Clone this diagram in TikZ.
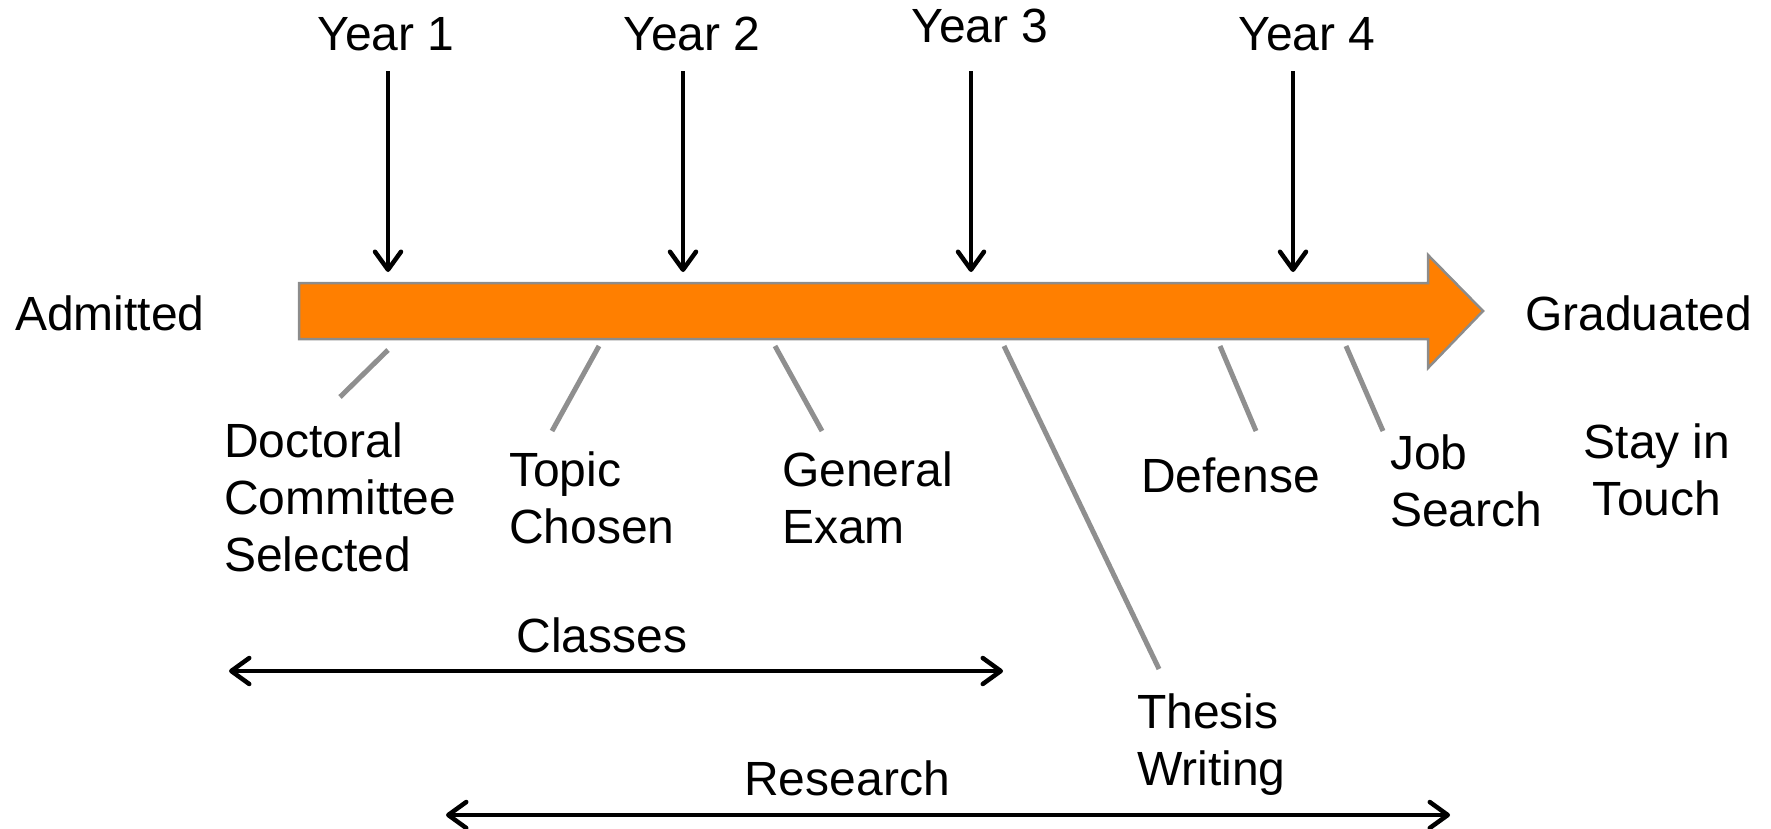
\documentclass[tikz,border=0pt]{standalone}
\usepackage{fontspec}
\setmainfont{Liberation Sans}
\usetikzlibrary{arrows.meta}
\definecolor{barorange}{HTML}{FF7F00}
\definecolor{bargray}{HTML}{8C8C8C}
\definecolor{leadgray}{HTML}{8F8F8F}
\tikzset{
  lbl/.style={font=\fontsize{48}{57}\selectfont, inner sep=0pt, align=left},
  tipbarb/.tip={Straight Barb[length=18pt,width=26pt,round]},
  yeararrow/.style={line width=4.5pt, -tipbarb},
  spanarrow/.style={line width=4.5pt, tipbarb-tipbarb},
  leader/.style={leadgray, line width=5pt},
  bar/.style={fill=barorange, draw=bargray, line width=2.5pt, line join=miter}
}
\begin{document}
\begin{tikzpicture}[x=1pt,y=-1pt]
\useasboundingbox (0,0) rectangle (1771,828);
% main orange arrow
\draw[bar] (299,283) -- (1428,283) -- (1428,255) -- (1483,311) -- (1428,368) -- (1428,339) -- (299,339) -- cycle;
% year labels
\node[lbl, anchor=base] (y1) at (386,50) {Year 1};
\node[lbl, anchor=base] (y2) at (692,50) {Year 2};
\node[lbl, anchor=base] (y3) at (980,42) {Year 3};
\node[lbl, anchor=base] (y4) at (1307,50) {Year 4};
% year arrow ends
\coordinate (a1s) at (388,71); \coordinate (a1e) at (388,272);
\coordinate (a2s) at (683,71); \coordinate (a2e) at (683,272);
\coordinate (a3s) at (971,71); \coordinate (a3e) at (971,272);
\coordinate (a4s) at (1293,71); \coordinate (a4e) at (1293,272);
\draw[yeararrow] (a1s) -- (a1e);
\draw[yeararrow] (a2s) -- (a2e);
\draw[yeararrow] (a3s) -- (a3e);
\draw[yeararrow] (a4s) -- (a4e);
% end labels
\node[lbl, anchor=base west] (adm) at (15,330) {Admitted};
\node[lbl, anchor=base west] (grad) at (1525,330) {Graduated};
% milestone labels (base anchor = last line baseline)
\node[lbl, anchor=base west] (doc) at (224,571) {Doctoral\\Committee\\Selected};
\node[lbl, anchor=base west] (top) at (509,543) {Topic\\Chosen};
\node[lbl, anchor=base west] (gen) at (782,543) {General\\Exam};
\node[lbl, anchor=base west] (def) at (1141,492) {Defense};
\node[lbl, anchor=base west] (job) at (1390,526) {Job\\Search};
\node[lbl, anchor=base, align=center] (stay) at (1657,515) {Stay in\\Touch};
\node[lbl, anchor=base west] (thes) at (1137,785) {Thesis\\Writing};
% leader lines
\coordinate (l1a) at (388,350); \coordinate (l1b) at (340,397);
\coordinate (l2a) at (599,346); \coordinate (l2b) at (552,431);
\coordinate (l3a) at (775,346); \coordinate (l3b) at (822,431);
\coordinate (l4a) at (1004,346); \coordinate (l4b) at (1159,669);
\coordinate (l5a) at (1220,346); \coordinate (l5b) at (1256,431);
\coordinate (l6a) at (1346,346); \coordinate (l6b) at (1383,431);
\draw[leader] (l1a) -- (l1b);
\draw[leader] (l2a) -- (l2b);
\draw[leader] (l3a) -- (l3b);
\draw[leader] (l4a) -- (l4b);
\draw[leader] (l5a) -- (l5b);
\draw[leader] (l6a) -- (l6b);
% spans
\node[lbl, anchor=base] (cls) at (602,652) {Classes};
\node[lbl, anchor=base] (res) at (847,795) {Research};
\coordinate (c1) at (229,671); \coordinate (c2) at (1003,671);
\coordinate (r1) at (446,815); \coordinate (r2) at (1450,815);
\draw[spanarrow] (c1) -- (c2);
\draw[spanarrow] (r1) -- (r2);
\end{tikzpicture}
\end{document}
